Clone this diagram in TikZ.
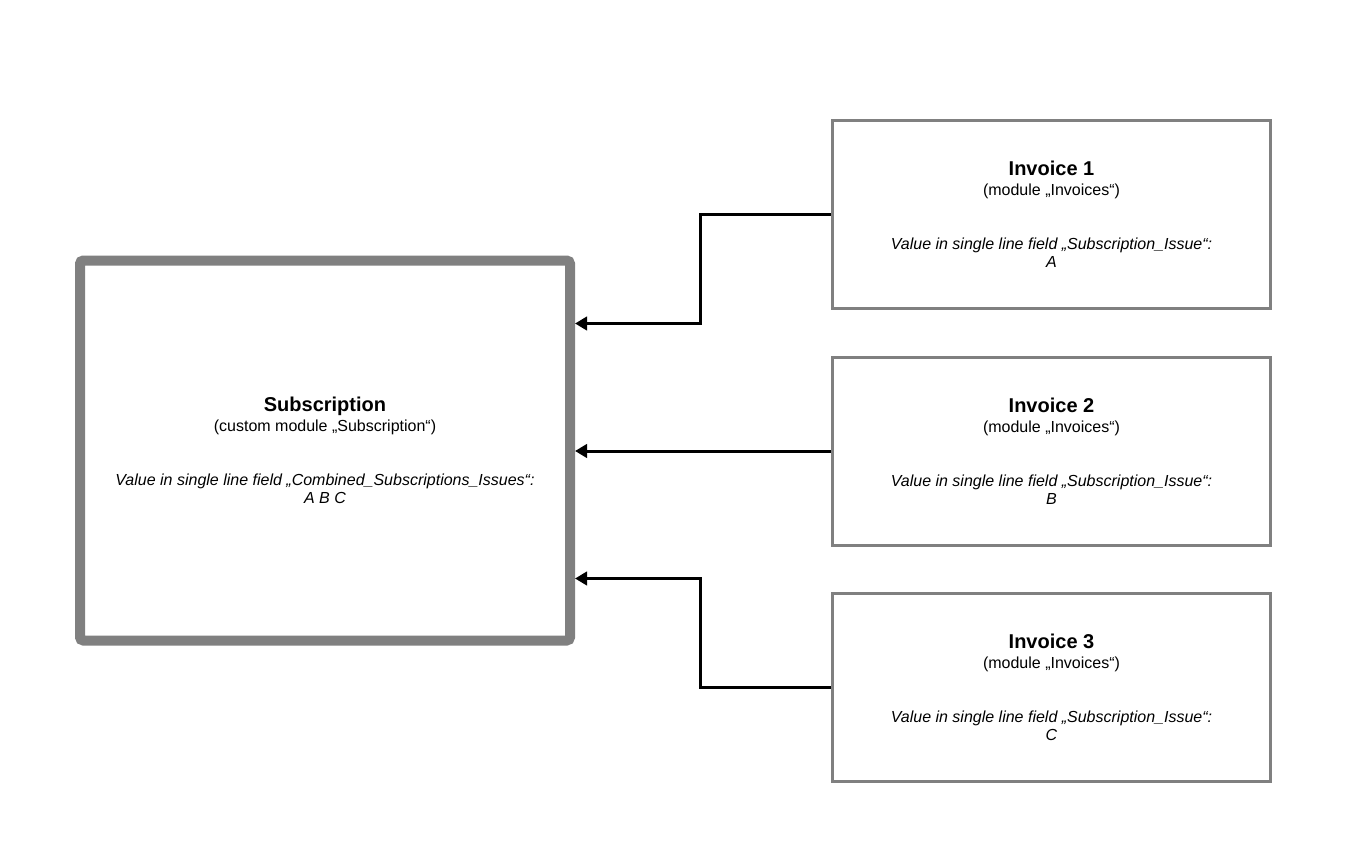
\documentclass[tikz,border=0pt]{standalone}
\usepackage{fontspec}
\setmainfont{Liberation Sans}
\usetikzlibrary{arrows.meta}

\definecolor{boxgray}{HTML}{808080}
\newcommand{\titlefont}{\fontsize{15}{15.75}\selectfont\bfseries}

\tikzset{
	invoice/.style={draw=boxgray, line width=2.25pt, minimum width=329pt, minimum height=141pt,
		align=center, inner sep=0pt, font=\fontsize{12}{13.5}\selectfont},
	subscr/.style={draw=boxgray, line width=7.5pt, rounded corners=2.5pt, minimum width=367.5pt,
		minimum height=285pt, align=center, inner sep=0pt, font=\fontsize{12}{13.5}\selectfont},
	link/.style={-{Triangle[length=9pt,width=10pt]}, line width=2.25pt}
}

\begin{document}
\begin{tikzpicture}[x=0.75pt,y=-0.75pt]
				\useasboundingbox (0,0) rectangle (1368,867);
				% main record
				\node[subscr] (sub) at (325,450.5) {{\titlefont Subscription}\\[1.5pt](custom module „Subscription“)\\[27.25pt]\textit{Value in single line field „Combined\_Subscriptions\_Issues“:}\\\textit{A B C}};
				% related invoices
				\node[invoice] (inv1) at (1051.5,214.5) {{\titlefont Invoice 1}\\[1.5pt](module „Invoices“)\\[27.25pt]\textit{Value in single line field „Subscription\_Issue“:}\\\textit{A}};
				\node[invoice] (inv2) at (1051.5,451) {{\titlefont Invoice 2}\\[1.5pt](module „Invoices“)\\[27.25pt]\textit{Value in single line field „Subscription\_Issue“:}\\\textit{B}};
				\node[invoice] (inv3) at (1051.5,687.5) {{\titlefont Invoice 3}\\[1.5pt](module „Invoices“)\\[27.25pt]\textit{Value in single line field „Subscription\_Issue“:}\\\textit{C}};
				% links
				\draw[link] (inv1.west) -- ++(-130,0) |- ([yshift=95.25pt]sub.east);
				\draw[link] (inv2.west) -- (inv2.west -| sub.east);
				\draw[link] (inv3.west) -- ++(-130,0) |- ([yshift=-96pt]sub.east);
			\end{tikzpicture}
\end{document}
